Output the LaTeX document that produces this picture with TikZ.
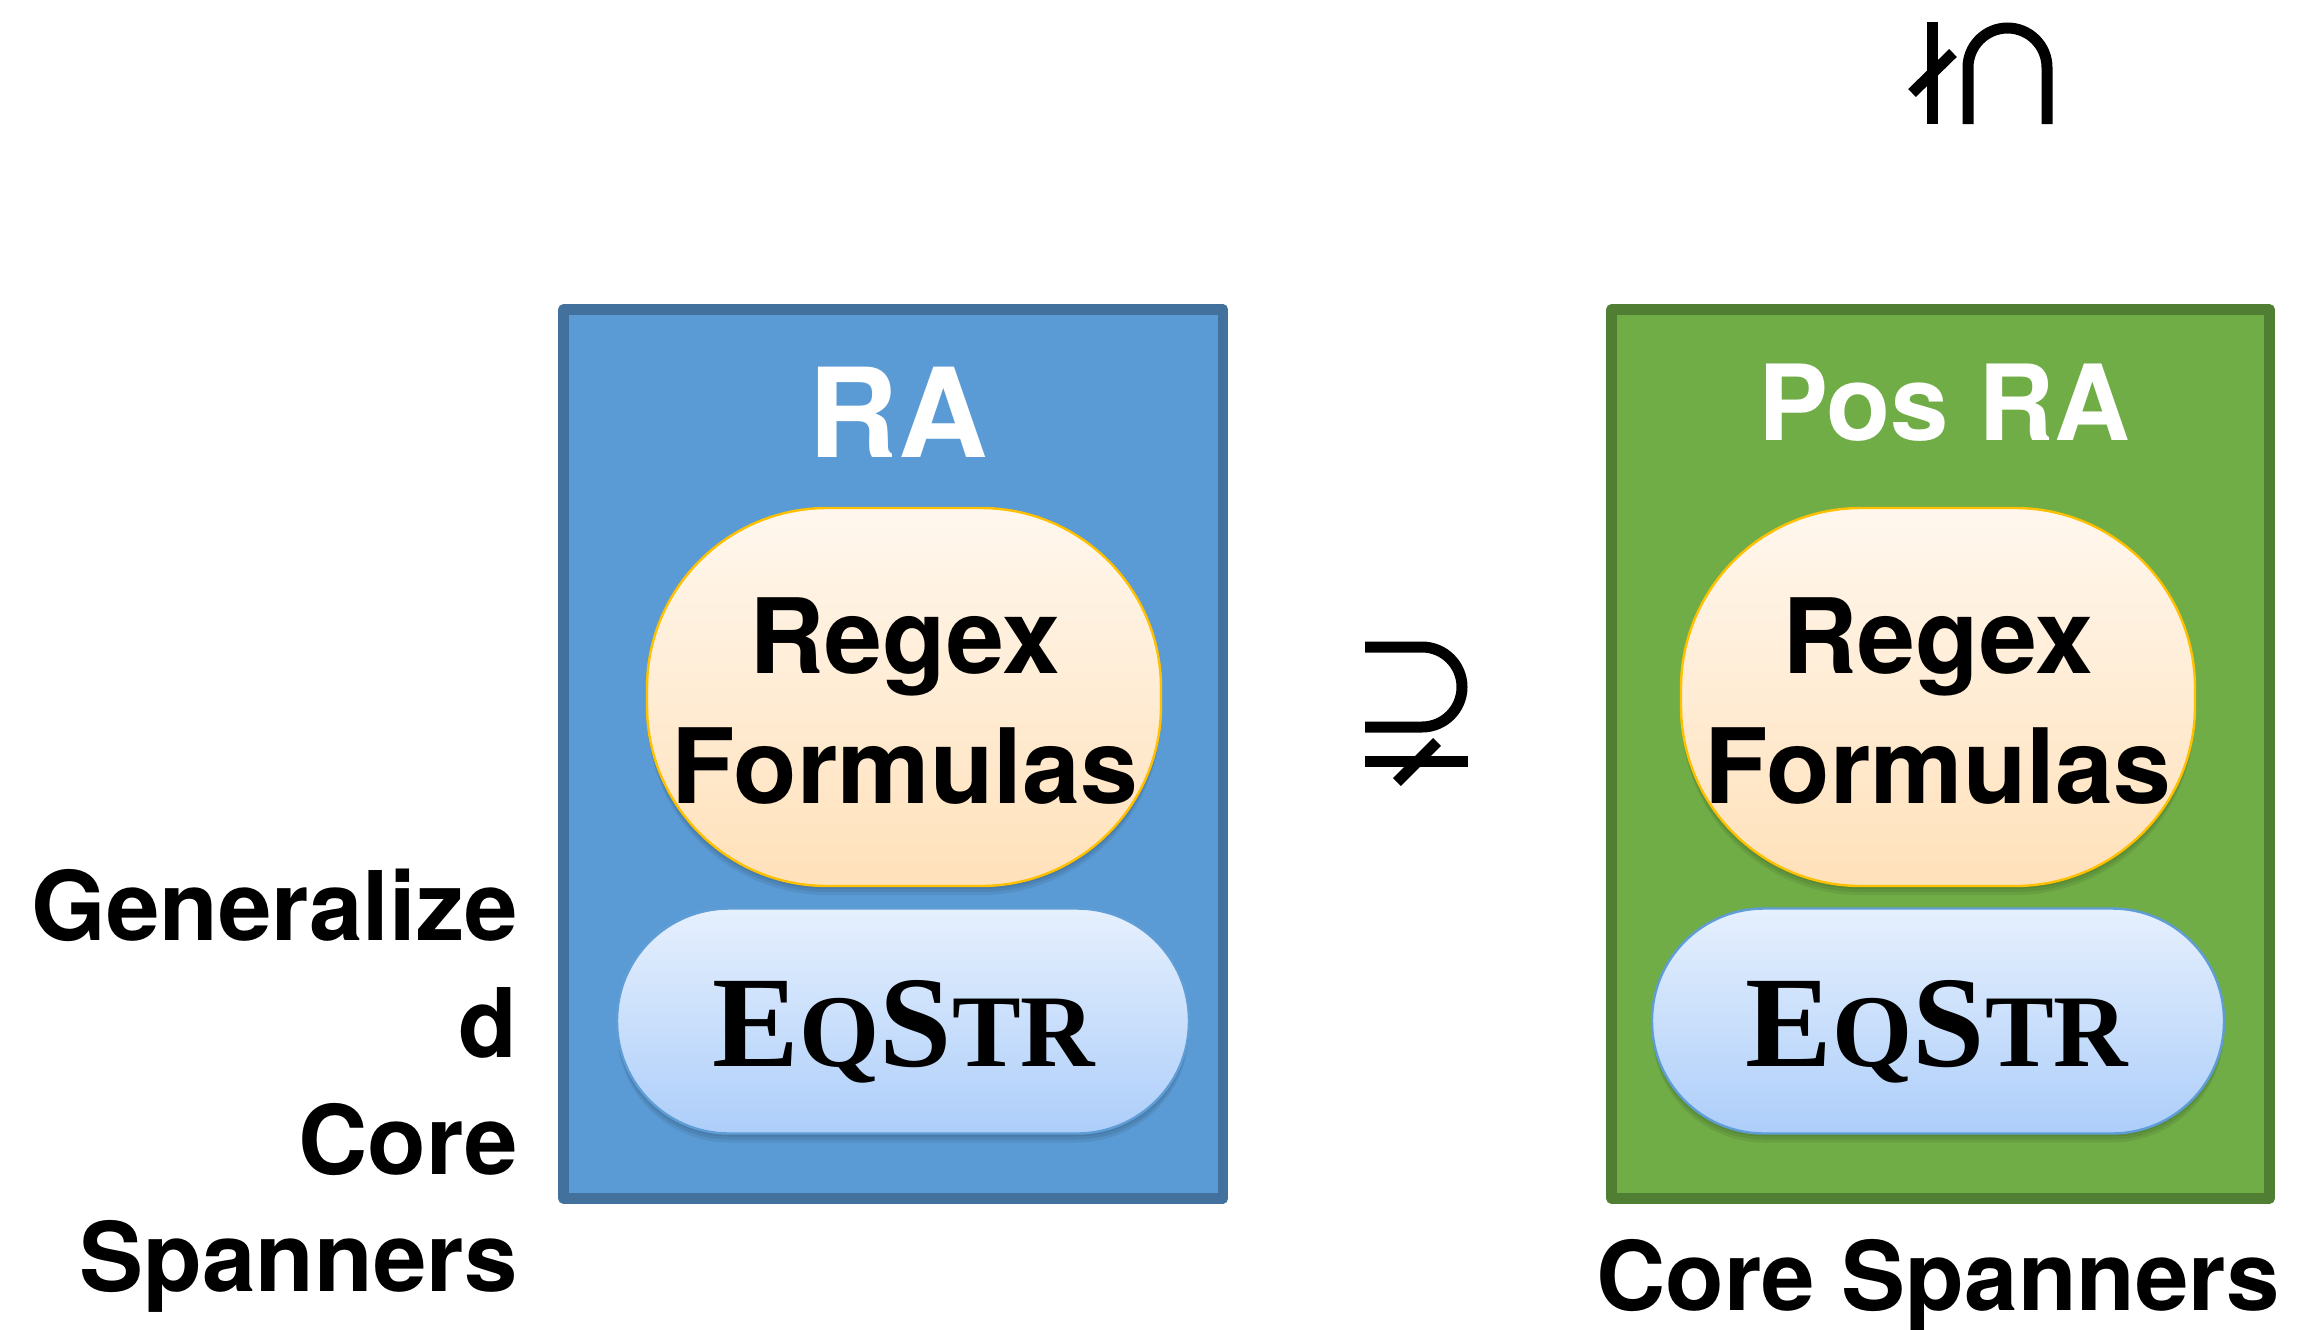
\documentclass[tikz,border=0pt]{standalone}
\usepackage{fontspec}
\newfontfamily\herosfont{TeX Gyre Heros}[BoldFont={TeX Gyre Heros Bold}]
\newfontfamily\timesbold{Liberation Serif Bold}
\definecolor{blueFill}{HTML}{5B9BD5}
\definecolor{blueEdge}{HTML}{41719C}
\definecolor{greenFill}{HTML}{70AD47}
\definecolor{greenEdge}{HTML}{507E32}
\definecolor{regexTop}{HTML}{FFF7EE}
\definecolor{regexBot}{HTML}{FFE1BA}
\definecolor{regexEdge}{HTML}{FFC000}
\definecolor{pillTop}{HTML}{E6F0FD}
\definecolor{pillBot}{HTML}{ADCEFA}
\definecolor{pillEdge}{HTML}{5F9DD6}
\newcommand{\eqstrtext}{{\timesbold\fontsize{65}{70}\selectfont E\fontsize{51.5}{60}\selectfont Q\fontsize{65}{70}\selectfont S\fontsize{51.5}{60}\selectfont TR}}
\begin{document}
\begin{tikzpicture}[x=0.5pt,y=-0.5pt,
  outerbox/.style={line width=5.25pt, line join=round},
  regexshape/.style={draw=regexEdge, line width=1.2pt, top color=regexTop, bottom color=regexBot,
    rounded corners=90pt, minimum width=257pt, minimum height=189pt, inner sep=0pt},
  pillshape/.style={draw=pillEdge, line width=1.2pt, top color=pillTop, bottom color=pillBot,
    rounded corners=56pt, minimum width=286pt, minimum height=112.5pt, inner sep=0pt},
  shadowRegex/.style={fill=black, opacity=0.07, rounded corners=90pt, minimum width=257pt, minimum height=189pt, inner sep=0pt},
  shadowPill/.style={fill=black, opacity=0.07, rounded corners=56pt, minimum width=286pt, minimum height=112.5pt, inner sep=0pt},
  titletext/.style={text=white, inner sep=0pt, anchor=base},
  innertext/.style={font=\herosfont\bfseries\fontsize{52}{65}\selectfont, align=center, inner sep=0pt, anchor=base},
  eqtext/.style={inner sep=0pt, anchor=base},
  sidetext/.style={font=\herosfont\bfseries\fontsize{48}{58.5}\selectfont, inner sep=0pt},
  symline/.style={line width=5.5pt, line cap=butt}
]
\useasboundingbox (0,0) rectangle (2304,1329);

% outer boxes
\draw[outerbox, fill=blueFill, draw=blueEdge] (563.5,309.5) rectangle (1223,1198.5);
\draw[outerbox, fill=greenFill, draw=greenEdge] (1611.5,309.5) rectangle (2269.5,1198.5);

% titles
\node[titletext, font=\herosfont\bfseries\fontsize{62}{70}\selectfont] (raTitle) at (898,457) {RA};
\node[titletext, font=\herosfont\bfseries\fontsize{52.5}{60}\selectfont] (posTitle) at (1944,440) {Pos RA};

% shadows
\foreach \d in {3,6,9} {
  \node[shadowRegex] at (904,697+\d) {};
  \node[shadowRegex] at (1938,697+\d) {};
  \node[shadowPill] at (903,1021+\d) {};
  \node[shadowPill] at (1938,1021+\d) {};
}

% regex shapes
\node[regexshape] (regexL) at (904,697) {};
\node[regexshape] (regexR) at (1938,697) {};
\node[innertext] (regexLtxt) at (905,803) {Regex\\Formulas};
\node[innertext] (regexRtxt) at (1938,803) {Regex\\Formulas};

% eqstr pills
\node[pillshape] (pillL) at (903,1021) {};
\node[pillshape] (pillR) at (1938,1021) {};
\node[eqtext] (eqL) at (904,1066) {\eqstrtext};
\node[eqtext] (eqR) at (1937,1066) {\eqstrtext};

% side labels
\node[sidetext, align=right, anchor=base east] (genLabel) at (518,1291) {Generalize\\d\\Core\\Spanners};
\node[sidetext, anchor=base] (coreLabel) at (1938,1310) {Core Spanners};

% middle symbol (superset with not-equal)
\draw[symline] (1365,647) -- (1422,647) arc[start angle=90, end angle=-90, radius=20pt] -- (1365,727);
\draw[symline] (1365,761) -- (1468,761);
\draw[symline] (1397,782) -- (1437,742);

% top symbol (rotated)
\draw[symline] (1932,22) -- (1932,124);
\draw[symline] (1968,124) -- (1968,67.5) arc[start angle=180, end angle=0, radius=19.75pt] -- (2047,124);
\draw[symline] (1912,93) -- (1953,53);
\end{tikzpicture}
\end{document}
